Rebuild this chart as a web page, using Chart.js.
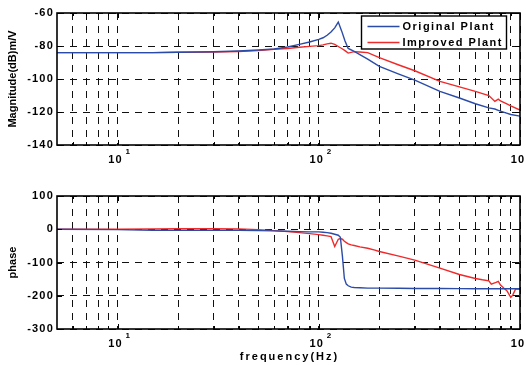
<!DOCTYPE html>
<html>
<head>
<meta charset="utf-8">
<script src="https://cdn.jsdelivr.net/npm/chart.js@4.4.1/dist/chart.umd.min.js"></script>
<style>
  html, body { margin: 0; padding: 0; background: #fff; overflow: hidden; width: 526px; height: 365px; }
  canvas { position: absolute; left: 0; }
  #magChart { top: 0; }
  #phaseChart { top: 175px; }
</style>
</head>
<body>
<canvas id="magChart" width="545" height="175"></canvas>
<canvas id="phaseChart" width="545" height="190"></canvas>
<script>
// --- data ---
const seriesNames = ["Original Plant", "Improved Plant"];

const magFreq = [5, 7, 10, 15, 20, 30, 40, 50, 60, 70, 80, 90, 100, 105, 110, 115, 120, 125, 130, 135,
                 140, 150, 160, 175, 200, 250, 300, 400, 500, 600, 700, 750, 780, 800, 850, 900, 1000];
const magOriginal = [-84, -84, -84, -84, -83.8, -83.5, -83, -82.4, -81.8, -80.6, -79, -77.6, -76, -75, -73.5, -71.5, -69, -65.5, -71, -77,
                     -81.5, -83.3, -85.2, -88, -92.3, -97, -100.7, -107.5, -111.5, -115, -117.5, -118.2, -119, -119.5, -120.5, -121.5, -122.5];
const magImproved = [-84, -84, -84, -84, -83.8, -83.7, -83.3, -82.8, -82, -81.5, -80.8, -80.2, -79.8, -79.3, -78.7, -78.3, -79, -80.3, -81.5, -82.8,
                     -84.3, -83.4, -83.6, -84, -87, -91.5, -95, -101.4, -104.8, -107.5, -110, -113.6, -112.2, -113.3, -114.8, -116.3, -118.8];

const phaseFreq = [5, 10, 15, 20, 30, 40, 50, 60, 70, 80, 90, 100, 105, 110, 115, 120, 125, 128, 131, 134,
                   137, 140, 145, 150, 160, 175, 190, 200, 250, 300, 400, 500, 600, 650, 700, 720, 760, 780, 800, 830,
                   860, 900, 920, 950, 1000];
const phaseOriginal = [0, -1, -3, -3, -3, -3, -4, -5, -6, -7, -8, -8, -9, -10, -12, -15, -18, -24, -80, -148,
                       -165, -170, -174, -175, -176, -177, -177, -177, -177.5, -178, -178, -178.5, -179, -179, -179, -179, -179, -179, -179, -179,
                       -179, -179, -179, -179, -179];
const phaseImproved = [0, 0, 1, 2, 2, 1, -1, -4, -7, -10, -13, -16, -18, -20, -22, -52, -30, -28, -30, -36,
                       -40, -44, -47, -49, -53, -57, -63, -67, -81, -93, -117, -136, -148, -152, -155, -165, -160, -157, -168, -177,
                       -185, -205, -198, -180, -180];

const xGridTicks = [6, 7, 8, 9, 10, 20, 30, 40, 50, 60, 70, 80, 90, 100, 200, 300, 400, 500, 600, 700, 800, 900, 1000];
const xLabelTicks = [10, 100, 1000];
const magTicks = [-140, -120, -100, -80, -60];
const phaseTicks = [-300, -200, -100, 0, 100];

// --- styling ---
const FONT = "'Liberation Sans', Arial, Helvetica, sans-serif";
const BLUE = "#2b4ba8";
const RED = "#f02a2a";
Chart.defaults.font.family = FONT;
Chart.defaults.font.size = 11;
Chart.defaults.font.weight = "bold";
Chart.defaults.color = "#000";

// titles drawn with no spacing, tick labels (z=1) a bit stretched like the original
const spacing = {
    id: "spacing",
    beforeDraw(chart) { chart.ctx.letterSpacing = "0px"; },
    afterDatasetsDraw(chart) { chart.ctx.letterSpacing = "1.2px"; }
};

// box frame, inward ticks, exponents on decade labels, x title
const frame = {
    id: "frame",
    afterDraw(chart, args, opts) {
        const { ctx, chartArea: a, scales } = chart;
        const xs = scales.x, ys = scales.y;
        ctx.save();
        ctx.letterSpacing = "0px";
        ctx.strokeStyle = "#000";
        ctx.lineWidth = 1;
        ctx.beginPath();
        xs.ticks.forEach(t => {
            const px = Math.round(xs.getPixelForValue(t.value)) + 0.5;
            const len = xLabelTicks.includes(t.value) ? 5 : 3;
            ctx.moveTo(px, a.bottom); ctx.lineTo(px, a.bottom - len);
            ctx.moveTo(px, a.top); ctx.lineTo(px, a.top + len);
        });
        ys.ticks.forEach(t => {
            const py = Math.round(ys.getPixelForValue(t.value)) + 0.5;
            ctx.moveTo(a.left, py); ctx.lineTo(a.left + 5, py);
            ctx.moveTo(a.right, py); ctx.lineTo(a.right - 5, py);
        });
        ctx.stroke();
        ctx.lineWidth = 1.6;
        ctx.strokeRect(a.left, a.top, a.right - a.left, a.bottom - a.top);

        ctx.fillStyle = "#000";
        ctx.textAlign = "left";
        ctx.textBaseline = "middle";
        ctx.font = "bold 8px " + FONT;
        xs.ticks.forEach(t => {
            if (!xLabelTicks.includes(t.value)) return;
            const px = xs.getPixelForValue(t.value);
            ctx.fillText(String(Math.round(Math.log10(t.value))), px + 8, a.bottom + 7);
        });
        if (opts.xTitle) {
            ctx.font = "bold 11px " + FONT;
            ctx.letterSpacing = "2px";
            ctx.textAlign = "center";
            ctx.fillText(opts.xTitle, (a.left + a.right) / 2 + 1, a.bottom + 28);
        }
        ctx.restore();
    }
};

// MATLAB style legend box inside the top axes
const boxLegend = {
    id: "boxLegend",
    afterDraw(chart) {
        const { ctx, chartArea: a } = chart;
        const x0 = a.right - 158.5, y0 = a.top + 3, w = 145, h = 33;
        ctx.save();
        ctx.fillStyle = "#fff";
        ctx.fillRect(x0, y0, w, h);
        ctx.strokeStyle = "#000";
        ctx.lineWidth = 1.4;
        ctx.strokeRect(x0, y0, w, h);
        ctx.font = "bold 11px " + FONT;
        ctx.letterSpacing = "1.5px";
        ctx.textAlign = "left";
        ctx.textBaseline = "middle";
        chart.data.datasets.forEach((ds, i) => {
            const y = y0 + 10.5 + i * 16;
            ctx.strokeStyle = ds.borderColor;
            ctx.lineWidth = 1.4;
            ctx.beginPath();
            ctx.moveTo(x0 + 6, y);
            ctx.lineTo(x0 + 38, y);
            ctx.stroke();
            ctx.fillStyle = "#000";
            ctx.fillText(ds.label, x0 + 41, y);
        });
        ctx.restore();
    }
};

function pairs(xs, ys) {
    return xs.map((x, i) => ({ x: x, y: ys[i] }));
}

function makeChart(id, freq, orig, impr, yTicks, yTitle, padTop, xHeight, extra, plugins) {
    return new Chart(document.getElementById(id), {
        type: "line",
        data: {
            datasets: [
                { label: seriesNames[0], data: pairs(freq, orig), borderColor: BLUE, borderWidth: 1.4 },
                { label: seriesNames[1], data: pairs(freq, impr), borderColor: RED, borderWidth: 1.4 }
            ]
        },
        options: {
            responsive: false,
            devicePixelRatio: 1,
            animation: false,
            layout: { padding: { top: padTop, right: 25, left: 0, bottom: 0 } },
            elements: { point: { radius: 0 }, line: { tension: 0 } },
            plugins: { legend: { display: false }, tooltip: { enabled: false }, frame: extra },
            scales: {
                x: {
                    type: "logarithmic",
                    min: 5,
                    max: 1000,
                    afterBuildTicks: s => { s.ticks = xGridTicks.map(v => ({ value: v })); },
                    afterFit: s => { s.height = xHeight; },
                    ticks: {
                        autoSkip: false, maxRotation: 0, minRotation: 0, padding: 8, labelOffset: -2, z: 1,
                        callback: v => xLabelTicks.includes(v) ? "10" : ""
                    },
                    grid: { color: "#111", lineWidth: 1, drawTicks: false },
                    border: { display: false, dash: [7, 6] }
                },
                y: {
                    min: yTicks[0],
                    max: yTicks[yTicks.length - 1],
                    afterBuildTicks: s => { s.ticks = yTicks.map(v => ({ value: v })); },
                    afterFit: s => { s.width = 57; },
                    ticks: { padding: 3, z: 1 },
                    grid: { color: "#111", lineWidth: 1, drawTicks: false },
                    border: { display: false, dash: [7, 6] },
                    title: { display: true, text: yTitle, font: { size: 11, weight: "bold" }, padding: { top: 6.5, bottom: 0 } }
                }
            }
        },
        plugins: plugins
    });
}

makeChart("magChart", magFreq, magOriginal, magImproved, magTicks, "Magnitude(dB)m/V", 13, 30, {}, [spacing, frame, boxLegend]);
makeChart("phaseChart", phaseFreq, phaseOriginal, phaseImproved, phaseTicks, "phase", 21, 36, { xTitle: "frequency(Hz)" }, [spacing, frame]);
</script>
</body>
</html>
